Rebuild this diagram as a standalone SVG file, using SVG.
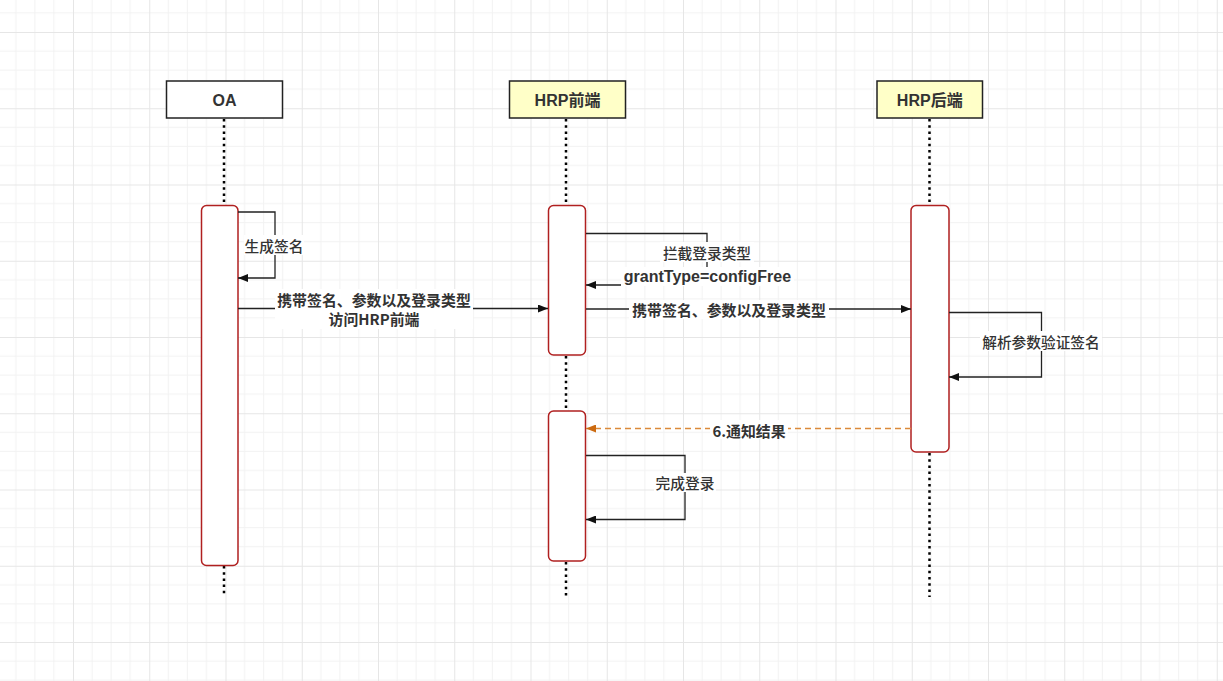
<svg xmlns="http://www.w3.org/2000/svg" width="1223" height="681" viewBox="0 0 1223 681">
<style>
.box{stroke:#222;stroke-width:1.5}
.title{font-family:"Liberation Sans","Noto Sans CJK SC",sans-serif;font-size:16px;font-weight:bold;fill:#333;text-anchor:middle;dominant-baseline:central}
.life{stroke:#000;stroke-width:2.5;stroke-dasharray:2.5 3.7;fill:none}
.bar{fill:#fff;stroke:#b02020;stroke-width:1.5}
.msg{stroke:#222;stroke-width:1.3;fill:none}
.dash{stroke:#dc8a3a;stroke-width:1.3;fill:none;stroke-dasharray:6 4}
.lbl{font-family:"Noto Sans CJK SC","Liberation Sans",sans-serif;font-size:14.7px;font-weight:500;fill:#333;text-anchor:middle;dominant-baseline:central}
.b{font-weight:bold;font-size:14.9px}
.bg{fill:#fff}
</style>
<defs>
<pattern id="grid" patternUnits="userSpaceOnUse" x="-3.25" y="-44.25" width="76.25" height="76.25">
<path d="M19.06 0V76.25M38.12 0V76.25M57.19 0V76.25M0 19.06H76.25M0 38.12H76.25M0 57.19H76.25" stroke="#f2f2f2" stroke-width="1" fill="none"/>
<path d="M0.5 0V76.25M0 0.5H76.25" stroke="#e6e6e6" stroke-width="1" fill="none"/>
</pattern>
<marker id="ah" markerWidth="10" markerHeight="8" refX="10" refY="4" orient="auto" markerUnits="userSpaceOnUse">
<path d="M0 0L10 4L0 8Z" fill="#111"/>
</marker>
<marker id="aho" markerWidth="10" markerHeight="8" refX="10" refY="4" orient="auto" markerUnits="userSpaceOnUse">
<path d="M0 0L10 4L0 8Z" fill="#cc6a10"/>
</marker>
</defs>
<rect width="1223" height="681" fill="#fff"/>
<rect width="1223" height="681" fill="url(#grid)"/>

<g id="lifelines">
<path class="life" d="M224 119V205M224 566V597"/>
<path class="life" d="M566 119V205M566 356V410M566 562V597"/>
<path class="life" d="M929.5 119V205M929.5 453V597"/>
</g>

<g id="node-oa">
<rect class="box" x="166.5" y="81" width="116" height="37" fill="#fff"/>
<text class="title" x="224.5" y="100">OA</text>
</g>
<g id="node-hrp-front">
<rect class="box" x="509.5" y="81" width="116" height="37" fill="#ffffc8"/>
<text class="title" x="567.5" y="100">HRP前端</text>
</g>
<g id="node-hrp-back">
<rect class="box" x="877" y="81" width="105.5" height="37" fill="#ffffc8"/>
<text class="title" x="929.75" y="100">HRP后端</text>
</g>

<g id="activations">
<rect class="bar" x="201.5" y="205.5" width="36.5" height="360" rx="5"/>
<rect class="bar" x="548.5" y="205.5" width="37" height="149.5" rx="5"/>
<rect class="bar" x="548.5" y="411" width="37" height="150" rx="5"/>
<rect class="bar" x="911" y="205.5" width="38" height="246.5" rx="5"/>
</g>

<g id="connectors">
<path class="msg" d="M238 212H275V278H238" marker-end="url(#ah)"/>
<path class="msg" d="M238 308.5H548" marker-end="url(#ah)"/>
<path class="msg" d="M586 233.5H707V285H586" marker-end="url(#ah)"/>
<path class="msg" d="M586 309H911" marker-end="url(#ah)"/>
<path class="msg" d="M949 312.5H1041.5V377H949" marker-end="url(#ah)"/>
<path class="dash" d="M911 428.5H586" marker-end="url(#aho)"/>
<path class="msg" d="M586 455.5H685V519.5H586" marker-end="url(#ah)"/>
</g>

<g id="labels">
<rect class="bg" x="244" y="235" width="60" height="20"/>
<text class="lbl" x="274" y="245">生成签名</text>
<rect class="bg" x="275" y="289" width="198" height="40"/>
<text class="lbl b" x="374" y="299">携带签名、参数以及登录类型</text>
<text class="lbl b" x="374" y="318.5">访问HRP前端</text>
<rect class="bg" x="660" y="242" width="94" height="20"/>
<text class="lbl" x="707" y="252">拦截登录类型</text>
<rect class="bg" x="621" y="267" width="173" height="19"/>
<text class="lbl b" x="707.5" y="276" style="font-family:'Liberation Sans',sans-serif;font-size:16px">grantType=configFree</text>
<rect class="bg" x="629" y="300" width="200" height="19"/>
<text class="lbl b" x="729" y="309.5">携带签名、参数以及登录类型</text>
<rect class="bg" x="980" y="331" width="122" height="20"/>
<text class="lbl" x="1041" y="341">解析参数验证签名</text>
<rect class="bg" x="710" y="420" width="78" height="19"/>
<text class="lbl b" x="749" y="430">6.通知结果</text>
<rect class="bg" x="654" y="473" width="62" height="19"/>
<text class="lbl" x="685" y="482.5">完成登录</text>
</g>
</svg>
